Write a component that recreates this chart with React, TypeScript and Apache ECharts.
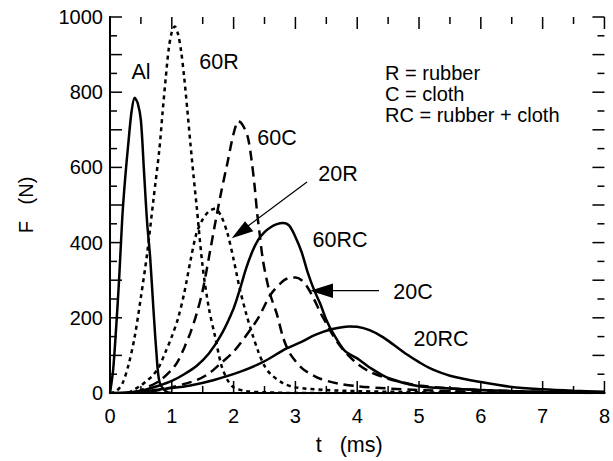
import React, { useEffect, useRef } from "react";
import * as echarts from "echarts";

const FONT = '"Liberation Sans", Arial, Helvetica, sans-serif';

// axis ticks (t in ms, F in N)
const xTicks = [0, 1, 2, 3, 4, 5, 6, 7, 8];
const xMinorTicks = [0.5, 1.5, 2.5, 3.5, 4.5, 5.5, 6.5, 7.5];
const yTicks = [0, 100, 200, 300, 400, 500, 600, 700, 800, 900, 1000];
const yMinorTicks = [50, 150, 250, 350, 450, 550, 650, 750, 850, 950];
const yTickLabels = [0, 200, 400, 600, 800, 1000];

// Al (solid)
const tAl = [0, 0.05, 0.1, 0.15, 0.2, 0.25, 0.3, 0.35, 0.4, 0.45, 0.5, 0.55, 0.6, 0.65, 0.7, 0.75, 0.8, 0.9, 1.0];
const fAl = [0, 60, 175, 310, 470, 580, 670, 750, 785, 770, 725, 590, 455, 360, 230, 110, 30, 5, 0];

// 60R (dotted)
const t60R = [0, 0.1, 0.2, 0.3, 0.4, 0.5, 0.6, 0.7, 0.8, 0.85, 0.9, 0.95, 1.0, 1.05, 1.1, 1.15, 1.2, 1.25, 1.3, 1.35, 1.4, 1.5, 1.6, 1.7, 1.8, 1.9, 2.0, 2.2, 2.5, 3.0, 4.0, 5.0];
const f60R = [0, 5, 25, 75, 150, 255, 370, 510, 650, 745, 835, 915, 960, 975, 955, 910, 840, 755, 665, 580, 500, 335, 225, 150, 75, 35, 15, 5, 2, 0, 0, 0];

// 60C (dashed)
const t60C = [0.4, 0.6, 0.8, 1.0, 1.1, 1.2, 1.3, 1.4, 1.5, 1.6, 1.7, 1.8, 1.9, 2.0, 2.08, 2.15, 2.23, 2.29, 2.34, 2.38, 2.42, 2.47, 2.53, 2.6, 2.7, 2.8, 2.9, 3.0, 3.1, 3.2, 3.4, 3.7, 4.0, 4.5, 5.0, 5.5, 6.0, 7.0, 8.0];
const f60C = [0, 15, 32, 62, 85, 120, 160, 210, 273, 360, 450, 535, 612, 690, 723, 712, 680, 620, 550, 480, 425, 358, 305, 258, 210, 148, 108, 85, 67, 55, 38, 25, 18, 12, 8, 5, 3, 1, 0];

// 20R (dotted)
const t20R = [0.3, 0.4, 0.5, 0.6, 0.7, 0.8, 0.9, 1.0, 1.1, 1.2, 1.3, 1.4, 1.5, 1.6, 1.7, 1.8, 1.9, 2.0, 2.1, 2.2, 2.3, 2.4, 2.5, 2.6, 2.8, 3.0, 3.5, 4.0, 5.0, 6.0];
const f20R = [0, 10, 20, 33, 48, 72, 110, 150, 198, 265, 350, 425, 462, 483, 490, 470, 425, 355, 277, 213, 158, 110, 72, 50, 26, 15, 8, 5, 2, 0];

// 60RC (solid)
const t60RC = [0, 0.3, 0.5, 0.8, 1.0, 1.2, 1.4, 1.6, 1.8, 2.0, 2.1, 2.2, 2.3, 2.4, 2.5, 2.6, 2.7, 2.8, 2.9, 3.0, 3.1, 3.2, 3.3, 3.4, 3.5, 3.6, 3.8, 4.0, 4.2, 4.5, 5.0, 5.5, 6.0, 6.5, 7.0, 8.0];
const f60RC = [0, 2, 6, 20, 32, 50, 72, 105, 155, 225, 275, 330, 375, 408, 428, 441, 449, 452, 445, 415, 375, 320, 275, 238, 195, 162, 112, 92, 68, 40, 18, 12, 8, 5, 3, 1];

// 20C (dashed)
const t20C = [0.4, 0.6, 0.8, 1.0, 1.2, 1.4, 1.6, 1.8, 2.0, 2.2, 2.4, 2.6, 2.8, 2.9, 3.0, 3.1, 3.2, 3.3, 3.4, 3.5, 3.6, 3.7, 3.8, 4.0, 4.2, 4.5, 4.8, 5.0, 5.5, 6.0, 6.5, 7.0, 8.0];
const f20C = [0, 3, 8, 15, 24, 34, 52, 80, 110, 152, 200, 262, 298, 306, 307, 300, 280, 250, 215, 185, 155, 130, 110, 78, 57, 38, 26, 20, 12, 8, 5, 3, 1];

// 20RC (solid)
const t20RC = [0.3, 0.6, 1.0, 1.3, 1.67, 2.1, 2.47, 2.85, 3.06, 3.33, 3.6, 3.87, 4.0, 4.2, 4.4, 4.6, 4.8, 5.0, 5.2, 5.5, 6.0, 6.5, 7.0, 7.5, 8.0];
const f20RC = [0, 6, 13, 20, 34, 56, 82, 118, 133, 155, 170, 177, 176, 167, 150, 127, 103, 82, 64, 46, 29, 16, 10, 6, 3];

const curveNames = ["Al", "60R", "60C", "20R", "60RC", "20C", "20RC"];
const legendLines = ["R = rubber", "C = cloth", "RC = rubber + cloth"];

const pair = (t: number[], f: number[]) => t.map((v, i) => [v, f[i]]);

export default function App() {
  const ref = useRef<HTMLDivElement>(null);
  useEffect(() => {
    if (!ref.current) return;
    const chart = echarts.init(ref.current, null, { renderer: "svg" });
    const SOLID = "solid";
    const DASH = [10, 6];
    const DOT = [4, 4];
    const X_MIN = 0, X_MAX = 8, Y_MIN = 0, Y_MAX = 1000;
    const mk = (name: string, t: number[], f: number[], type: any) => ({
      name,
      type: "line",
      data: pair(t, f),
      showSymbol: false,
      symbol: "none",
      smooth: 0.3,
      lineStyle: { color: "#000", width: 2.5, type },
      silent: true,
    });
    const baseAxis = (min: number, max: number, interval: number) => ({
      type: "value",
      min,
      max,
      interval,
      splitLine: { show: false },
      axisLine: { show: true, lineStyle: { color: "#000", width: 2 } },
      axisTick: { show: false },
      minorTick: { show: false },
    });
    const txt = (text: string, x: number, y: number, align = "center", size = 21.5) => ({
      type: "text",
      x,
      y,
      silent: true,
      style: { text, font: `${size}px ${FONT}`, fill: "#000", align, verticalAlign: "middle" },
    });
    chart.setOption({
      animation: false,
      grid: { left: 110, right: 7, top: 17, bottom: 68 },
      xAxis: [
        {
          ...baseAxis(X_MIN, X_MAX, 1),
          position: "bottom",
          name: "t\u00a0\u00a0\u00a0(ms)",
          nameLocation: "middle",
          nameGap: 41,
          nameTextStyle: { fontSize: 21.5, fontFamily: FONT, color: "#000", padding: [0, 16, 0, 0] },
          axisLabel: {
            margin: 13,
            fontSize: 20,
            fontFamily: FONT,
            color: "#000",
            formatter: (v: number) => (xTicks.includes(v) ? String(v) : ""),
          },
        },
        { ...baseAxis(X_MIN, X_MAX, 1), position: "top", axisLabel: { show: false } },
      ],
      yAxis: [
        {
          ...baseAxis(Y_MIN, Y_MAX, 100),
          position: "left",
          name: "F\u00a0\u00a0\u00a0(N)",
          nameLocation: "middle",
          nameGap: 74,
          nameRotate: 90,
          nameTextStyle: { fontSize: 20, fontFamily: FONT, color: "#000" },
          axisLabel: {
            margin: 7,
            fontSize: 20,
            fontFamily: FONT,
            color: "#000",
            formatter: (v: number) => (yTickLabels.includes(v) ? String(v) : ""),
          },
        },
        { ...baseAxis(Y_MIN, Y_MAX, 100), position: "right", axisLabel: { show: false } },
      ],
      series: [
        mk(curveNames[0], tAl, fAl, SOLID),
        mk(curveNames[1], t60R, f60R, DOT),
        mk(curveNames[2], t60C, f60C, DASH),
        mk(curveNames[3], t20R, f20R, DOT),
        mk(curveNames[4], t60RC, f60RC, SOLID),
        mk(curveNames[5], t20C, f20C, DASH),
        mk(curveNames[6], t20RC, f20RC, SOLID),
      ],
    });

    // inward tick marks on all four sides, placed through the chart's own scales
    const px = (x: number, y: number) => chart.convertToPixel({ seriesIndex: 0 }, [x, y]) as number[];
    const tickStyle = { stroke: "#000", lineWidth: 1.5 };
    const ticks: any[] = [];
    const addX = (v: number, L: number) => {
      const b = px(v, Y_MIN);
      const t = px(v, Y_MAX);
      ticks.push({ type: "line", silent: true, shape: { x1: b[0], y1: b[1], x2: b[0], y2: b[1] - L }, style: tickStyle });
      ticks.push({ type: "line", silent: true, shape: { x1: t[0], y1: t[1], x2: t[0], y2: t[1] + L }, style: tickStyle });
    };
    const addY = (v: number, L: number) => {
      const l = px(X_MIN, v);
      const r = px(X_MAX, v);
      ticks.push({ type: "line", silent: true, shape: { x1: l[0], y1: l[1], x2: l[0] + L, y2: l[1] }, style: tickStyle });
      ticks.push({ type: "line", silent: true, shape: { x1: r[0], y1: r[1], x2: r[0] - L, y2: r[1] }, style: tickStyle });
    };
    xTicks.forEach((v) => addX(v, 12));
    xMinorTicks.forEach((v) => addX(v, 7));
    yTicks.forEach((v) => addY(v, 12));
    yMinorTicks.forEach((v) => addY(v, 7));

    chart.setOption({
      graphic: [
        ...ticks,
        txt(curveNames[0], 141, 72),
        txt(curveNames[1], 219, 62),
        txt(curveNames[2], 277, 138),
        txt(curveNames[3], 338, 174),
        txt(curveNames[4], 340, 240),
        txt(curveNames[5], 413, 292),
        txt(curveNames[6], 441, 339),
        txt(legendLines[0], 385, 73, "left", 20),
        txt(legendLines[1], 385, 94, "left", 20),
        txt(legendLines[2], 385, 115, "left", 20),
        {
          type: "line",
          silent: true,
          shape: { x1: 307, y1: 182, x2: 248, y2: 226 },
          style: { stroke: "#000", lineWidth: 1.2 },
        },
        {
          type: "polygon",
          silent: true,
          shape: { points: [[231.7, 238.3], [253.3, 231.2], [245, 221.2]] },
          style: { fill: "#000" },
        },
        {
          type: "line",
          silent: true,
          shape: { x1: 379, y1: 290.7, x2: 330, y2: 290.7 },
          style: { stroke: "#000", lineWidth: 1.2 },
        },
        {
          type: "polygon",
          silent: true,
          shape: { points: [[310, 290.7], [333, 283.5], [333, 298]] },
          style: { fill: "#000" },
        },
      ],
    });
    return () => chart.dispose();
  }, []);
  return (
    <div
      ref={ref}
      style={{ position: "absolute", left: 0, top: 0, width: 613, height: 461, background: "#fff" }}
    />
  );
}
